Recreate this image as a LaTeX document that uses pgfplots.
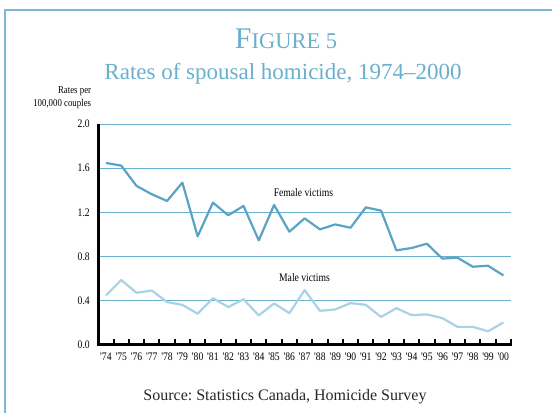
\documentclass[border=0pt]{standalone}
\usepackage{fontspec}
\setmainfont{Liberation Serif}
\newfontfamily\condfont{Liberation Serif}[FakeStretch=0.84]
\usepackage{pgfplots}
\pgfplotsset{compat=1.18}
\definecolor{fem}{HTML}{5AA3C5}
\definecolor{mal}{HTML}{A8D3E5}
\definecolor{gridc}{HTML}{6AAFD0}
\definecolor{ttl}{HTML}{6AAFCC}
\definecolor{framec}{HTML}{7DB9D5}
\begin{document}
\begin{tikzpicture}[x=1pt,y=1pt]
\path[use as bounding box] (0,0) rectangle (552,413);
\draw[framec, line width=1.6pt] (4.8,0) -- (4.8,403) -- (552,403);
\node[anchor=base, text=ttl, inner sep=0] at (286,364) {{\fontsize{30}{30}\selectfont F}{\fontsize{22.5}{22.5}\selectfont IGURE 5}};
\node[anchor=base, text=ttl, inner sep=0, font=\fontsize{23}{23}\selectfont] at (283,333.4) {Rates of spousal homicide, 1974–2000};
\node[anchor=north east, align=right, font=\condfont\fontsize{10.5}{13.5}\selectfont, inner sep=0] at (91.3,327) {Rates per\\100,000 couples};
\node[anchor=base, inner sep=0, font=\fontsize{16}{16}\selectfont, text=black!85] at (285,12.3) {\frenchspacing Source: Statistics Canada, Homicide Survey};
\begin{axis}[
  at={(98.3pt,68.5pt)}, anchor=south west,
  scale only axis, width=412.7pt, height=220.3pt,
  xmin=-0.5, xmax=26.5, ymin=0, ymax=2.0,
  clip=false,
  axis x line*=bottom, axis y line*=left,
  axis line style={line width=2.3pt, black, -},
  xtick={0,...,26},
  xticklabels={'74,'75,'76,'77,'78,'79,'80,'81,'82,'83,'84,'85,'86,'87,'88,'89,'90,'91,'92,'93,'94,'95,'96,'97,'98,'99,'00},
  minor xtick={0.5,1.5,...,26.5},
  major tick length=0pt,
  minor tick length=5pt,
  tick align=inside,
  minor tick style={line width=2pt, black},
  ytick={0,0.4,...,2.0},
  ytick style={draw=none},
  ymajorgrids,
  grid style={gridc, line width=1.3pt},
  yticklabel style={font=\condfont\fontsize{11.5}{11.5}\selectfont, xshift=-5pt},
  xticklabel style={font=\condfont\fontsize{11.5}{11.5}\selectfont, yshift=-5pt},
  /pgf/number format/.cd, fixed, fixed zerofill, precision=1, assume math mode=true,
]
\addplot[fem, line width=2.2pt, line join=round, no marks] coordinates {
(0,1.648) (1,1.624) (2,1.44) (3,1.364) (4,1.303) (5,1.47) (6,0.982) (7,1.288) (8,1.173) (9,1.258) (10,0.945) (11,1.267) (12,1.024) (13,1.145) (14,1.045) (15,1.09) (16,1.06) (17,1.245) (18,1.215) (19,0.855) (20,0.876) (21,0.915) (22,0.78) (23,0.788) (24,0.706) (25,0.715) (26,0.627)};
\addplot[mal, line width=2.2pt, line join=round, no marks] coordinates {
(0,0.445) (1,0.585) (2,0.47) (3,0.49) (4,0.385) (5,0.36) (6,0.28) (7,0.42) (8,0.34) (9,0.41) (10,0.264) (11,0.373) (12,0.285) (13,0.494) (14,0.306) (15,0.318) (16,0.376) (17,0.36) (18,0.25) (19,0.33) (20,0.267) (21,0.273) (22,0.24) (23,0.16) (24,0.16) (25,0.12) (26,0.2)};
\node[font=\condfont\fontsize{11.5}{11.5}\selectfont, inner sep=0] at (axis cs:12.92,1.375) {Female victims};
\node[font=\condfont\fontsize{11.5}{11.5}\selectfont, inner sep=0] at (axis cs:12.99,0.604) {Male victims};
\draw[black, line width=2.6pt, line cap=rect] (rel axis cs:0,0) -- (rel axis cs:1,0);
\draw[black, line width=3pt] (rel axis cs:0,1) -- (rel axis cs:0,0);
\end{axis}
\end{tikzpicture}
\end{document}
